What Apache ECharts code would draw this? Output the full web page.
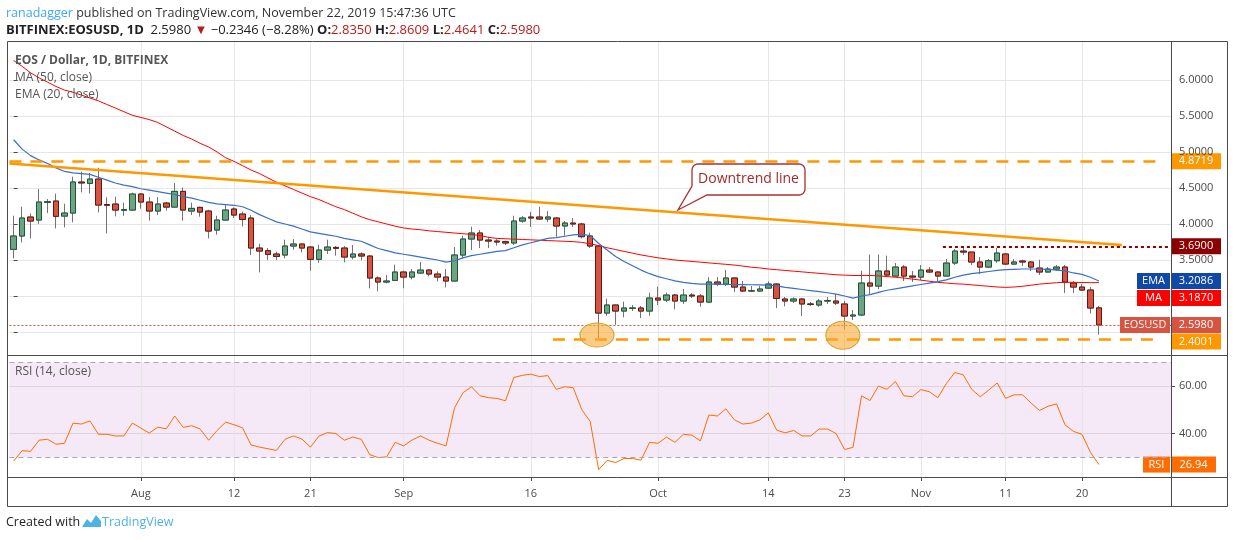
<!DOCTYPE html>
<html>
<head>
<meta charset="utf-8">
<title>EOS / Dollar, 1D</title>
<script src="https://cdn.jsdelivr.net/npm/echarts@6/dist/echarts.min.js"></script>
<style>
  html, body { margin: 0; padding: 0; background: #fff; }
  #chart { width: 1234px; height: 540px; }
</style>
</head>
<body>
<div id="chart"></div>
<script>
// daily candles, 17 Jul 2019 .. 22 Nov 2019
const opens = [3.648,3.833,4.097,4.055,4.300,4.319,4.110,4.152,4.583,4.564,
  4.624,4.270,4.277,4.190,4.194,4.416,4.305,4.180,4.291,4.235,
  4.453,4.180,4.231,4.180,3.916,4.055,4.208,4.138,4.083,3.666,
  3.629,3.583,3.569,3.694,3.722,3.680,3.509,3.638,3.675,3.666,
  3.541,3.583,3.555,3.250,3.194,3.217,3.333,3.263,3.319,3.360,
  3.305,3.263,3.208,3.569,3.791,3.875,3.777,3.763,3.754,3.736,
  4.041,4.097,4.097,4.069,4.083,3.972,4.013,4.000,3.833,3.694,
  2.763,2.875,2.791,2.830,2.833,2.791,2.972,2.944,3.013,2.930,
  3.013,3.000,2.916,3.194,3.166,3.250,3.124,3.069,3.069,3.110,
  3.166,2.958,2.930,2.958,2.889,2.875,2.930,2.930,2.889,2.722,
  2.736,3.180,3.138,3.347,3.277,3.402,3.277,3.263,3.360,3.333,
  3.277,3.458,3.624,3.610,3.472,3.402,3.490,3.583,3.444,3.486,
  3.472,3.388,3.333,3.374,3.402,3.180,3.124,3.083,2.835];
const highs = [4.115,4.240,4.148,4.485,4.347,4.421,4.282,4.657,4.726,4.708,
  4.782,4.370,4.379,4.296,4.435,4.425,4.374,4.374,4.305,4.569,
  4.504,4.296,4.240,4.198,4.115,4.268,4.231,4.171,4.124,3.726,
  3.666,3.615,3.782,3.790,3.730,3.694,3.712,3.782,3.694,3.694,
  3.708,3.606,3.569,3.273,3.290,3.435,3.351,3.374,3.472,3.374,
  3.342,3.374,3.680,3.837,3.962,3.916,3.823,3.790,3.768,4.115,
  4.110,4.166,4.240,4.180,4.097,4.041,4.083,4.018,3.880,3.700,
  2.962,2.880,2.921,2.875,2.861,3.046,3.129,3.046,3.027,3.097,
  3.041,3.027,3.263,3.263,3.361,3.263,3.208,3.138,3.138,3.203,
  3.180,2.986,2.980,2.972,2.916,2.958,2.986,3.027,2.930,2.805,
  3.351,3.574,3.574,3.560,3.458,3.430,3.347,3.430,3.402,3.347,
  3.513,3.652,3.680,3.610,3.541,3.513,3.666,3.597,3.513,3.504,
  3.486,3.504,3.402,3.430,3.430,3.208,3.166,3.124,2.861];
const lows = [3.523,3.745,3.800,3.999,4.152,3.939,3.953,4.023,4.439,4.425,
  4.161,3.870,4.106,4.115,4.185,4.212,4.046,4.124,4.185,4.231,
  4.046,4.124,4.101,3.800,3.851,4.050,4.083,3.967,3.569,3.328,
  3.499,3.499,3.523,3.643,3.606,3.351,3.462,3.583,3.560,3.467,
  3.509,3.495,3.106,3.064,3.175,3.217,3.106,3.231,3.314,3.273,
  3.203,3.120,3.200,3.522,3.638,3.666,3.666,3.700,3.708,3.708,
  4.018,3.958,4.055,4.027,3.824,3.837,3.958,3.800,3.666,2.416,
  2.726,2.601,2.703,2.791,2.694,2.726,2.875,2.916,2.814,2.889,
  2.972,2.851,2.902,3.138,3.138,3.055,3.055,3.055,3.055,3.100,
  2.833,2.856,2.902,2.722,2.861,2.847,2.889,2.875,2.537,2.666,
  2.720,3.018,3.097,3.280,3.270,3.208,3.194,3.222,3.320,3.208,
  3.270,3.430,3.569,3.430,3.305,3.388,3.462,3.430,3.430,3.416,
  3.347,3.291,3.330,3.347,3.041,3.041,3.069,2.759,2.464];
const closes = [3.833,4.083,4.041,4.305,4.310,4.106,4.152,4.583,4.570,4.624,
  4.263,4.260,4.194,4.200,4.416,4.305,4.180,4.277,4.235,4.453,
  4.194,4.217,4.166,3.902,4.055,4.194,4.124,4.064,3.666,3.624,
  3.578,3.550,3.694,3.722,3.666,3.509,3.638,3.680,3.662,3.541,
  3.583,3.555,3.250,3.194,3.208,3.333,3.263,3.333,3.360,3.305,
  3.263,3.208,3.569,3.791,3.875,3.777,3.763,3.750,3.736,4.041,
  4.083,4.083,4.069,4.097,3.972,4.013,4.000,3.824,3.694,2.763,
  2.875,2.791,2.833,2.833,2.791,2.972,2.944,3.013,2.930,3.013,
  3.000,2.916,3.194,3.166,3.250,3.124,3.069,3.074,3.097,3.166,
  2.967,2.930,2.958,2.889,2.884,2.930,2.935,2.902,2.722,2.736,
  3.180,3.138,3.347,3.291,3.402,3.277,3.263,3.360,3.333,3.277,
  3.458,3.624,3.610,3.472,3.402,3.490,3.597,3.444,3.472,3.472,
  3.402,3.333,3.374,3.402,3.194,3.124,3.083,2.833,2.598];

// indicator lines as drawn
const ma50 = [6.27,6.19,6.10,6.03,5.97,5.91,5.86,5.83,5.79,5.75,
  5.71,5.66,5.61,5.56,5.51,5.48,5.45,5.41,5.35,5.29,
  5.23,5.18,5.12,5.07,5.00,4.92,4.87,4.81,4.75,4.70,
  4.64,4.58,4.53,4.48,4.43,4.38,4.34,4.29,4.24,4.20,
  4.15,4.10,4.06,4.03,4.00,3.97,3.945,3.93,3.92,3.905,
  3.895,3.885,3.875,3.865,3.855,3.84,3.815,3.80,3.795,3.79,
  3.785,3.78,3.775,3.77,3.765,3.76,3.755,3.745,3.725,3.70,
  3.67,3.645,3.62,3.595,3.57,3.55,3.53,3.515,3.50,3.49,
  3.48,3.47,3.46,3.45,3.44,3.43,3.415,3.40,3.39,3.375,
  3.365,3.355,3.345,3.335,3.325,3.315,3.305,3.295,3.29,3.285,
  3.285,3.285,3.28,3.27,3.26,3.25,3.235,3.22,3.205,3.19,
  3.18,3.17,3.165,3.155,3.145,3.135,3.125,3.12,3.125,3.135,
  3.15,3.165,3.175,3.185,3.19,3.19,3.188,3.185,3.187];
const ema20 = [5.17,5.04,4.95,4.89,4.84,4.78,4.73,4.71,4.70,4.69,
  4.65,4.61,4.57,4.54,4.52,4.49,4.47,4.45,4.43,4.41,
  4.38,4.36,4.33,4.30,4.28,4.27,4.26,4.24,4.19,4.13,
  4.08,4.03,4.00,3.97,3.93,3.89,3.87,3.85,3.83,3.80,
  3.78,3.76,3.71,3.66,3.63,3.60,3.58,3.56,3.54,3.52,
  3.50,3.47,3.49,3.53,3.56,3.58,3.60,3.62,3.63,3.67,
  3.71,3.74,3.77,3.80,3.81,3.83,3.85,3.855,3.84,3.73,
  3.64,3.55,3.48,3.42,3.36,3.31,3.27,3.24,3.21,3.19,
  3.175,3.165,3.165,3.165,3.16,3.16,3.158,3.156,3.155,3.152,
  3.14,3.12,3.105,3.09,3.075,3.06,3.045,3.025,3.00,2.97,
  3.00,3.02,3.05,3.08,3.10,3.12,3.14,3.16,3.18,3.20,
  3.225,3.26,3.29,3.31,3.325,3.34,3.355,3.365,3.37,3.375,
  3.375,3.375,3.37,3.36,3.35,3.32,3.30,3.26,3.2086];
const rsi14 = [28.4,32.8,32.5,37.2,37.6,35.5,35.9,44.4,44.0,45.3,
  39.7,39.7,39.0,39.0,44.4,42.3,40.2,42.7,42.0,47.4,
  42.6,43.3,41.9,37.2,41.3,44.8,43.7,42.4,35.2,34.3,
  33.6,32.9,37.6,39.0,37.7,34.3,38.9,40.4,40.0,37.2,
  38.5,37.6,31.1,29.9,30.2,36.3,34.8,37.3,39.0,37.2,
  35.9,34.8,50.8,57.2,59.7,55.9,55.1,54.8,53.8,63.6,
  64.5,65.0,64.0,64.4,58.6,59.7,59.3,50.1,45.1,24.8,
  28.7,27.8,29.5,29.5,28.8,36.3,35.9,38.5,36.3,39.7,
  39.3,36.9,47.8,47.4,50.4,45.8,44.0,44.4,45.7,48.7,
  41.4,40.3,41.3,39.0,39.0,41.9,41.9,40.0,33.3,34.2,
  55.9,53.9,60.0,58.6,61.9,55.9,55.5,58.5,57.6,55.1,
  61.0,65.7,64.7,58.6,55.5,58.3,61.3,54.8,56.3,56.3,
  52.8,49.7,51.5,52.5,43.7,40.9,39.7,32.1,26.94];

// axis ticks
const tickDates = ['2019-08-01','2019-08-12','2019-08-21','2019-09-01','2019-09-16','2019-10-01',
  '2019-10-14','2019-10-23','2019-11-01','2019-11-11','2019-11-20'];
const tickLabels = ['Aug','12','21','Sep','16','Oct','14','23','Nov','11','20'];
const priceGridTicks = [2.5,3,3.5,4,4.5,5,5.5,6];
const priceLabelTicks = [3.5,4,4.5,5,5.5,6];
const rsiTicks = [40,60];

// hand-drawn levels
const resistance = 4.8719;
const support = 2.4001;
const recentHigh = 3.69;
const trendFrom = [-0.5, 4.84];
const trendTo = [130.7, 3.708];
const lowMarks = [[68.8, 2.458], [97.8, 2.455]];

// categories: 17 Jul .. 30 Nov (blank space after last candle)
const dates = [];
for (let i = 0; i < 137; i++) {
  dates.push(new Date(Date.UTC(2019, 6, 17) + i * 86400000).toISOString().slice(0, 10));
}

const FONT = "'Open Sans', sans-serif";
const AXIS = '#4a4a4a';
const GRID = '#e6e6e6';
const PRICE_MIN = 2.1806, PRICE_MAX = 6.5278;
const RSI_MIN = 21.71, RSI_MAX = 72.65;

const wickData = opens.map((o, i) => [o, closes[i], lows[i], highs[i]]);
const bodyData = opens.map((o, i) => [o, closes[i], Math.min(o, closes[i]), Math.max(o, closes[i])]);
const isTick = (idx, val) => tickDates.indexOf(val) >= 0;

const chart = echarts.init(document.getElementById('chart'));

chart.setOption({
  animation: false,
  backgroundColor: '#ffffff',
  textStyle: { fontFamily: FONT },
  grid: [
    { left: 9.4, top: 42, width: 1161.6, height: 313 },
    { left: 9.4, top: 356, width: 1161.6, height: 121 }
  ],
  xAxis: [
    { type: 'category', gridIndex: 0, data: dates, boundaryGap: true,
      axisLine: { show: false }, axisTick: { show: false }, axisLabel: { show: false }, splitLine: { show: false } },
    { type: 'category', gridIndex: 1, data: dates, boundaryGap: true,
      axisLine: { show: false },
      axisTick: { show: true, alignWithLabel: true, interval: isTick, length: 4, lineStyle: { color: AXIS } },
      axisLabel: { interval: isTick, formatter: v => tickLabels[tickDates.indexOf(v)], color: AXIS, fontSize: 11, margin: 11 },
      splitLine: { show: false } },
    { type: 'value', gridIndex: 0, min: -0.5, max: 136.5, show: false }
  ],
  yAxis: [
    { type: 'value', gridIndex: 0, position: 'right', min: PRICE_MIN, max: PRICE_MAX,
      axisLine: { show: false },
      axisTick: { show: true, customValues: priceGridTicks, length: 4, lineStyle: { color: AXIS } },
      axisLabel: { customValues: priceLabelTicks, formatter: v => v.toFixed(4), color: AXIS, fontSize: 11, margin: 8 },
      splitLine: { show: true, lineStyle: { color: GRID } } },
    { type: 'value', gridIndex: 1, position: 'right', min: RSI_MIN, max: RSI_MAX,
      axisLine: { show: false },
      axisTick: { show: true, customValues: rsiTicks, length: 4, lineStyle: { color: AXIS } },
      axisLabel: { customValues: rsiTicks, formatter: v => v.toFixed(2), color: AXIS, fontSize: 11, margin: 8 },
      splitLine: { show: true, lineStyle: { color: GRID } } }
  ],
  series: [
    { name: 'vgrid', type: 'line', xAxisIndex: 0, yAxisIndex: 0, data: [], silent: true,
      markLine: { silent: true, z: 1, symbol: 'none', label: { show: false },
        lineStyle: { color: GRID, width: 1, type: 'solid' },
        data: tickDates.map(d => ({ xAxis: d })) } },
    { name: 'wicks', type: 'candlestick', xAxisIndex: 0, yAxisIndex: 0, data: wickData, barWidth: 6, silent: true,
      itemStyle: { color: 'rgba(0,0,0,0)', color0: 'rgba(0,0,0,0)', borderColor: '#737375', borderColor0: '#737375', borderWidth: 1 } },
    { name: 'EOSUSD', type: 'candlestick', xAxisIndex: 0, yAxisIndex: 0, data: bodyData, barWidth: 6,
      itemStyle: { color: '#6ba583', color0: '#d75442', borderColor: '#225437', borderColor0: '#5b1a13', borderWidth: 1 } },
    { name: 'MA (50, close)', type: 'line', xAxisIndex: 0, yAxisIndex: 0, data: ma50, symbol: 'none',
      lineStyle: { color: '#ff0000', width: 1 } },
    { name: 'EMA (20, close)', type: 'line', xAxisIndex: 0, yAxisIndex: 0, data: ema20, symbol: 'none',
      lineStyle: { color: '#3a6fc4', width: 1.2 } },
    { name: 'drawings', type: 'line', xAxisIndex: 2, yAxisIndex: 0, data: [], silent: true,
      markLine: { silent: true, symbol: 'none', label: { show: false },
        data: [
          [{ coord: trendFrom, lineStyle: { color: '#ff9800', width: 2.5, type: 'solid' } }, { coord: trendTo }],
          [{ coord: [-0.5, resistance], lineStyle: { color: '#ff9800', width: 2.5, type: [12, 9] } }, { coord: [135.3, resistance] }],
          [{ coord: [63.6, support], lineStyle: { color: '#ff9800', width: 2.5, type: [12, 9] } }, { coord: [135.0, support] }],
          [{ coord: [109.6, recentHigh], lineStyle: { color: '#8b0000', width: 2, type: [3, 3] } }, { coord: [136.5, recentHigh] }],
          [{ coord: [-0.5, closes[closes.length - 1]], lineStyle: { color: '#d75442', width: 1, type: [2, 2] } }, { coord: [136.5, closes[closes.length - 1]] }]
        ] },
      markPoint: { silent: true, symbol: 'path://M0 50A50 50 0 1 0 100 50A50 50 0 1 0 0 50Z',
        label: { show: false },
        itemStyle: { color: 'rgba(250,170,50,0.6)', borderColor: '#d2a23c', borderWidth: 1 },
        data: [
          { coord: lowMarks[0], symbolSize: [34, 24] },
          { coord: lowMarks[1], symbolSize: [34, 28] }
        ] } },
    { name: 'vgrid2', type: 'line', xAxisIndex: 1, yAxisIndex: 1, data: [], silent: true,
      markLine: { silent: true, z: 1, symbol: 'none', label: { show: false },
        lineStyle: { color: GRID, width: 1, type: 'solid' },
        data: tickDates.map(d => ({ xAxis: d })) } },
    { name: 'RSI', type: 'line', xAxisIndex: 1, yAxisIndex: 1, data: rsi14, symbol: 'none',
      lineStyle: { color: '#ff6d00', width: 1 },
      markLine: { silent: true, symbol: 'none', label: { show: false },
        lineStyle: { color: '#aaa2b5', width: 1, type: [5, 4] },
        data: [{ yAxis: 70 }, { yAxis: 30 }] },
      markArea: { silent: true, itemStyle: { color: 'rgba(156,39,176,0.10)' },
        data: [[{ yAxis: 30 }, { yAxis: 70 }]] } }
  ]
});

// overlay: frame, texts, price tags (placed with the chart's own scales)
const py = v => chart.convertToPixel({ yAxisIndex: 0 }, v);
const ry = v => chart.convertToPixel({ yAxisIndex: 1 }, v);
const AX = 1171;

function tag(x, y, w, fill, text) {
  return { type: 'group', z: 100, children: [
    { type: 'rect', shape: { x: x, y: y - 8, width: w, height: 16 }, style: { fill: fill } },
    { type: 'text', x: x + w / 2, y: y, style: { text: text, align: 'center', verticalAlign: 'middle', fill: '#fff', font: '11px ' + FONT } }
  ] };
}

// callout outline: rounded box with a pointer towards the trend line
function calloutPoints(x0, y0, x1, y1, r, tip, mouthLeftY, mouthBottomX) {
  const pts = [];
  const arc = (cx, cy, a0, a1) => {
    for (let k = 0; k <= 6; k++) {
      const a = (a0 + (a1 - a0) * k / 6) * Math.PI / 180;
      pts.push([cx + r * Math.cos(a), cy + r * Math.sin(a)]);
    }
  };
  arc(x1 - r, y0 + r, -90, 0);
  arc(x1 - r, y1 - r, 0, 90);
  pts.push([mouthBottomX, y1], tip, [x0, mouthLeftY]);
  arc(x0 + r, y0 + r, 180, 270);
  return pts;
}

const last = closes[closes.length - 1];
const yEma = py(ema20[ema20.length - 1]);
const yMa = Math.max(py(ma50[ma50.length - 1]), yEma + 17);
const yLast = py(last);
const ySup = Math.max(py(support), yLast + 16.5);
const F = n => n + 'px ' + FONT;

const g = [
  { type: 'rect', z: 90, shape: { x: 7.5, y: 41.5, width: 1220, height: 465 }, style: { fill: 'none', stroke: AXIS, lineWidth: 1 } },
  { type: 'line', z: 90, shape: { x1: 7, y1: 355.5, x2: 1228, y2: 355.5 }, style: { stroke: AXIS, lineWidth: 1 } },
  { type: 'line', z: 90, shape: { x1: 7, y1: 477.5, x2: 1228, y2: 477.5 }, style: { stroke: AXIS, lineWidth: 1 } },
  { type: 'line', z: 90, shape: { x1: AX + 0.5, y1: 42, x2: AX + 0.5, y2: 506 }, style: { stroke: AXIS, lineWidth: 1 } },

  { type: 'text', x: 6, y: 13, style: { text: '{a|ranadagger} {b|published on TradingView.com, November 22, 2019 15:47:36 UTC}',
      verticalAlign: 'middle', font: F(12.5),
      rich: { a: { fill: '#3fa9f5', font: F(12.5) }, b: { fill: '#333', font: F(12.5) } } } },
  { type: 'text', x: 6, y: 30, style: { text: '{k|BITFINEX:EOSUSD, 1D}  {n|2.5980} {r|▼} {n|−0.2346 (−8.28%)} {k|O:}{r|2.8350} {k|H:}{r|2.8609} {k|L:}{r|2.4641} {k|C:}{r|2.5980}',
      verticalAlign: 'middle', font: F(13),
      rich: { k: { fill: '#222', font: 'bold ' + F(13) }, n: { fill: '#222', font: F(13) }, r: { fill: '#b71c1c', font: F(13) } } } },

  { type: 'text', z: 95, x: 15, y: 61, style: { text: 'EOS / Dollar, 1D, BITFINEX', verticalAlign: 'middle', fill: '#555', font: 'bold ' + F(12) } },
  { type: 'text', z: 95, x: 15, y: 78, style: { text: 'MA (50, close)', verticalAlign: 'middle', fill: '#555', font: F(12) } },
  { type: 'text', z: 95, x: 15, y: 95, style: { text: 'EMA (20, close)', verticalAlign: 'middle', fill: '#555', font: F(12) } },
  { type: 'text', z: 95, x: 15, y: 372, style: { text: 'RSI (14, close)', verticalAlign: 'middle', fill: '#555', font: F(12) } },

  // callout
  { type: 'polygon', z: 96, shape: { points: calloutPoints(692, 164, 805, 195, 6, [678, 210], 186, 707) },
    style: { fill: '#fff', stroke: '#a83232', lineWidth: 1.3 } },
  { type: 'text', z: 97, x: 748.5, y: 179.5, style: { text: 'Downtrend line', align: 'center', verticalAlign: 'middle', fill: '#a52a2a', font: F(14) } },

  // price scale tags
  tag(AX, py(resistance), 50, '#ff9800', resistance.toFixed(4)),
  tag(AX, py(recentHigh), 50, '#8b0000', recentHigh.toFixed(4)),
  tag(1137, yEma, 33, '#1048a8', 'EMA'),
  tag(AX, yEma, 50, '#1048a8', ema20[ema20.length - 1].toFixed(4)),
  tag(1137, yMa, 33, '#ff0000', 'MA'),
  tag(AX, yMa, 50, '#ff0000', ma50[ma50.length - 1].toFixed(4)),
  tag(1120, yLast, 50, '#d75442', 'EOSUSD'),
  tag(AX, yLast, 50, '#d75442', last.toFixed(4)),
  tag(AX, ySup, 50, '#ff9800', support.toFixed(4)),
  tag(1143, ry(rsi14[rsi14.length - 1]), 27, '#ff6d00', 'RSI'),
  tag(AX, ry(rsi14[rsi14.length - 1]), 45, '#ff6d00', rsi14[rsi14.length - 1].toFixed(2)),

  // footer
  { type: 'text', x: 6, y: 522, style: { text: 'Created with', verticalAlign: 'middle', fill: '#222', font: F(12.5) } },
  { type: 'polygon', shape: { points: [[82, 527], [87, 519], [91, 523], [96, 515], [101, 521], [101, 527]] }, style: { fill: '#4db3e6' } },
  { type: 'text', x: 102, y: 522, style: { text: 'TradingView', verticalAlign: 'middle', fill: '#4db3e6', font: F(12.5) } }
];

chart.setOption({ graphic: g });
</script>
</body>
</html>
